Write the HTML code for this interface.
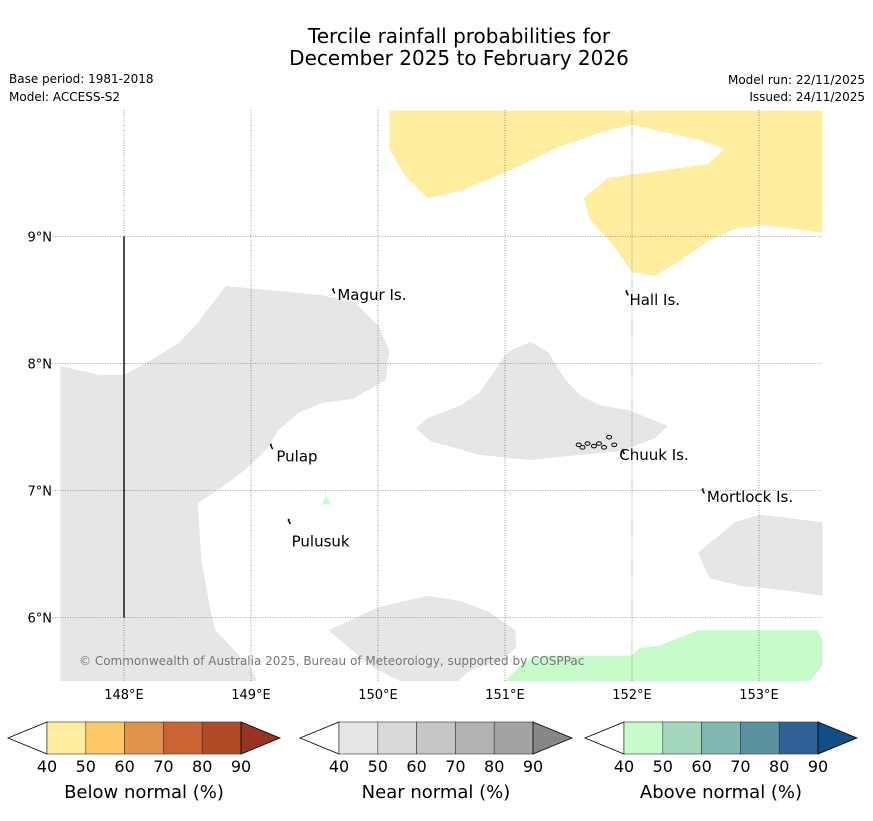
<!DOCTYPE html>
<html><head><meta charset="utf-8"><style>
body{margin:0;background:#fff;font-family:"Liberation Sans","DejaVu Sans",sans-serif}
svg text{font-family:"DejaVu Sans","Liberation Sans",sans-serif}
</style></head><body>
<svg id="c" width="873" height="816" xmlns="http://www.w3.org/2000/svg">
<text x="459" y="43" font-size="20" text-anchor="middle">Tercile rainfall probabilities for</text>
<text x="459" y="65" font-size="20" text-anchor="middle">December 2025 to February 2026</text>
<text x="9" y="83" font-size="12">Base period: 1981-2018</text>
<text x="9" y="101" font-size="12">Model: ACCESS-S2</text>
<text x="865" y="84" font-size="12" text-anchor="end">Model run: 22/11/2025</text>
<text x="865" y="101" font-size="12" text-anchor="end">Issued: 24/11/2025</text>
<g id="map"></g>
<g id="cb"></g>
</svg>
<script>
const lonTicks=[148,149,150,151,152,153];
const latTicks=[9,8,7,6];
const yellowRegion=[[150.09,9.99],[150.09,9.69],[150.21,9.48],[150.39,9.30],[150.65,9.36],[151.04,9.52],[151.39,9.69],[151.75,9.82],[152.00,9.88],[152.22,9.83],[152.54,9.76],[152.73,9.69],[152.60,9.57],[152.38,9.54],[151.81,9.46],[151.62,9.30],[151.67,9.13],[151.84,8.95],[152.00,8.72],[152.18,8.69],[152.38,8.81],[152.61,8.97],[152.81,9.06],[153.05,9.09],[153.5,9.03],[153.5,9.99]];
const grayWest=[[147.5,7.98],[147.80,7.91],[148.0,7.91],[148.20,8.02],[148.43,8.16],[148.58,8.32],[148.80,8.61],[149.54,8.54],[149.82,8.48],[150.0,8.30],[150.09,8.10],[150.06,7.87],[149.80,7.72],[149.56,7.69],[149.37,7.61],[149.21,7.47],[149.13,7.33],[148.95,7.16],[148.76,7.02],[148.58,6.90],[148.61,6.45],[148.68,6.06],[148.72,5.90],[148.87,5.74],[148.99,5.62],[149.05,5.5],[147.5,5.5]];
const grayChuuk=[[150.30,7.49],[150.39,7.57],[150.65,7.67],[150.80,7.77],[151.02,8.09],[151.20,8.17],[151.34,8.09],[151.47,7.88],[151.59,7.75],[151.75,7.67],[151.98,7.63],[152.28,7.51],[152.18,7.41],[151.91,7.31],[151.59,7.28],[151.20,7.24],[150.80,7.28],[150.41,7.39]];
const grayEast=[[152.52,6.51],[152.61,6.31],[152.85,6.25],[153.24,6.21],[153.5,6.17],[153.5,6.75],[153.01,6.81],[152.81,6.75]];
const graySouth=[[149.61,5.90],[150.0,6.08],[150.39,6.17],[150.65,6.13],[150.88,6.04],[151.08,5.90],[151.09,5.76],[150.96,5.66],[150.72,5.58],[150.63,5.5],[150.17,5.5],[149.94,5.62]];
const greenSouth=[[151.0,5.5],[151.16,5.66],[151.31,5.70],[152.0,5.70],[152.06,5.76],[152.22,5.78],[152.52,5.90],[153.46,5.90],[153.5,5.82],[153.5,5.62],[153.40,5.5]];
const greenSpot=[[149.56,6.89],[149.59,6.96],[149.63,6.89]];
const islandNames=["Magur Is.","Hall Is.","Pulap","Chuuk Is.","Mortlock Is.","Pulusuk"];
const islandLon=[149.66,151.97,149.17,151.94,152.57,149.31];
const islandLat=[8.575,8.56,7.35,7.31,7.0,6.76];
const labelLon=[149.68,151.98,149.20,151.90,152.59,149.32];
const labelLat=[8.50,8.46,7.23,7.24,6.91,6.56];
const chuukLon=[151.58,151.61,151.65,151.70,151.74,151.78,151.82,151.86];
const chuukLat=[7.36,7.34,7.37,7.35,7.37,7.34,7.42,7.36];
const cbTicks=[40,50,60,70,80,90];
const belowColors=["#fff","#ffeda0","#fec965","#e0924a","#cc6533","#b04a27","#973321"];
const nearColors=["#fff","#e6e6e6","#d9d9d9","#c6c6c6","#b3b3b3","#a3a3a3","#878787"];
const aboveColors=["#fff","#c8fbcb","#a4d8bd","#82b8b2","#5b92a0","#2e6297","#134e84"];

const NS="http://www.w3.org/2000/svg";
const X0=60.5,Y0=110,W=762,H=571,LON0=147.5,LON1=153.5,LAT0=5.5,LAT1=9.996;
const sx=l=>X0+(l-LON0)/(LON1-LON0)*W;
const sy=l=>Y0+(LAT1-l)/(LAT1-LAT0)*H;
function mk(t,a,p){const e=document.createElementNS(NS,t);for(const k in a)e.setAttribute(k,a[k]);p.appendChild(e);return e;}
const map=document.getElementById('map');
function poly(pts,fill,name){
 const e=mk('polygon',{points:pts.map(p=>sx(p[0])+','+sy(p[1])).join(' '),fill:fill},map);
 
 
}
poly(yellowRegion,'#ffeda0','below-normal-region-north');
poly(grayWest,'#e6e6e6','near-normal-region-west');
poly(grayChuuk,'#e6e6e6','near-normal-region-chuuk');
poly(grayEast,'#e6e6e6','near-normal-region-east');
poly(graySouth,'#e6e6e6','near-normal-region-south');
poly(greenSouth,'#c8fbcb','above-normal-region-south');
poly(greenSpot,'#c8fbcb','above-normal-spot');
lonTicks.forEach(l=>{
 const x=sx(l);
 const g=mk('line',{x1:x,x2:x,y1:Y0,y2:Y0+H,stroke:'#555','stroke-width':0.6,'stroke-dasharray':'1,1.5'},map);
 
 
 const t=mk('text',{x:x,y:699,'font-size':13,'text-anchor':'middle'},map);t.textContent=l+'°E';
 
 
});
latTicks.forEach(l=>{
 const y=sy(l);
 const g=mk('line',{x1:X0-8,x2:X0+W,y1:y,y2:y,stroke:'#555','stroke-width':0.6,'stroke-dasharray':'1,1.5'},map);
 
 
 const t=mk('text',{x:52,y:y+5,'font-size':13,'text-anchor':'end'},map);t.textContent=l+'°N';
 
 
});
const vl=mk('line',{x1:sx(148),x2:sx(148),y1:sy(9),y2:sy(6),stroke:'#222','stroke-width':1.6},map);


chuukLon.forEach((l,i)=>{
 const e=mk('ellipse',{cx:sx(l),cy:sy(chuukLat[i]),rx:2.5,ry:1.8,fill:'none',stroke:'#000','stroke-width':1},map);
 
 
});
islandNames.forEach((n,i)=>{
 const x=sx(islandLon[i]),y=sy(islandLat[i]);
 const m=mk('path',{d:`M${x},${y+3} l-2,-4 l1,-1`,stroke:'#000','stroke-width':1.5,fill:'none'},map);
 
 
 const t=mk('text',{x:sx(labelLon[i]),y:sy(labelLat[i]),'font-size':15},map);t.textContent=n;
 
 
});
const cp=mk('text',{x:79,y:665,'font-size':12,fill:'#777'},map);
cp.textContent='© Commonwealth of Australia 2025, Bureau of Meteorology, supported by COSPPac';



const cb=document.getElementById('cb');
function colorbar(x0,cols,label,name){
 const g=mk('g',{},cb);
 
 
 const y0=722,h=32,cw=38.8,tip=39;
 const xs=v=>x0+tip+(v-40)/10*cw;
 mk('polygon',{points:`${x0},${y0+h/2} ${x0+tip},${y0} ${x0+tip},${y0+h}`,fill:cols[0],stroke:'#000','stroke-width':0.8},g);
 for(let i=0;i<5;i++){
  const r=mk('rect',{x:xs(cbTicks[i]),y:y0,width:xs(cbTicks[i+1])-xs(cbTicks[i]),height:h,fill:cols[i+1],stroke:'#333','stroke-width':0.6},g);
  
  
 }
 const xe=xs(90);
 mk('polygon',{points:`${xe},${y0} ${xe+tip},${y0+h/2} ${xe},${y0+h}`,fill:cols[6],stroke:'#000','stroke-width':0.8},g);
 cbTicks.forEach(v=>{const t=mk('text',{x:xs(v),y:772,'font-size':16,'text-anchor':'middle'},g);t.textContent=v;
  
  });
 const t=mk('text',{x:xs(65),y:798,'font-size':18,'text-anchor':'middle'},g);t.textContent=label;
 
 
}
colorbar(8,belowColors,'Below normal (%)','below-normal-colorbar');
colorbar(300,nearColors,'Near normal (%)','near-normal-colorbar');
colorbar(585,aboveColors,'Above normal (%)','above-normal-colorbar');
</script>
</body></html>
